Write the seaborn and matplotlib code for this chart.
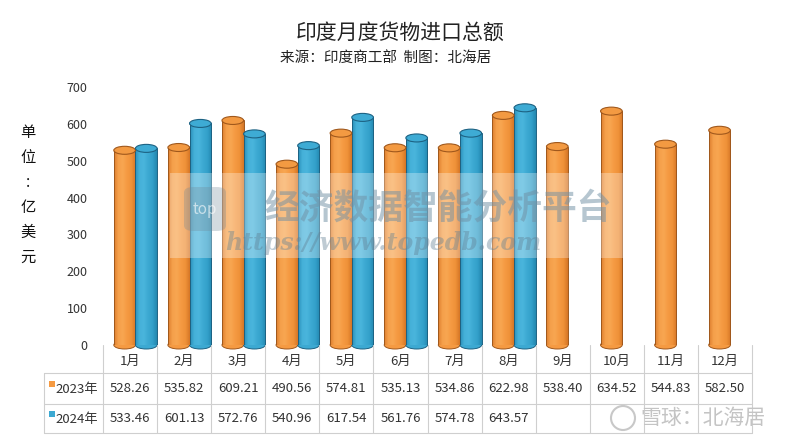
import numpy as np
import pandas as pd
import matplotlib
matplotlib.use("Agg")
import matplotlib.pyplot as plt
import seaborn as sns
from matplotlib.colors import LinearSegmentedColormap
from matplotlib.patches import Ellipse, Rectangle, FancyBboxPatch
import matplotlib.transforms as mtransforms

# ---------------- data ----------------
months = ["1月", "2月", "3月", "4月", "5月", "6月", "7月", "8月", "9月", "10月", "11月", "12月"]
years = ["2023年", "2024年"]
imports_2023 = [528.26, 535.82, 609.21, 490.56, 574.81, 535.13, 534.86, 622.98, 538.40, 634.52, 544.83, 582.50]
imports_2024 = [533.46, 601.13, 572.76, 540.96, 617.54, 561.76, 574.78, 643.57, None, None, None, None]
yticks = [0, 100, 200, 300, 400, 500, 600, 700]

title = "印度月度货物进口总额"
subtitle = "来源：印度商工部  制图：北海居"
ylabel_chars = ["单", "位", ":", "亿", "美", "元"]

# ---------------- style ----------------
sns.set_style("white")
plt.rcParams["font.family"] = ["Noto Sans CJK SC", "DejaVu Sans"]

c_orange, c_blue = "#F59A42", "#3CA9D2"
cmap_o = LinearSegmentedColormap.from_list("o", ["#DD7E2E", "#F5A04B", "#F8A651", "#F59A42", "#EF9239", "#D57626"])
cmap_b = LinearSegmentedColormap.from_list("b", ["#2A8FB8", "#45B1D9", "#4AB5DC", "#3CA9D2", "#33A0CA", "#2387AF"])
edge_o, edge_b = "#A0581C", "#1D6283"
cap_o, cap_b = "#F39A42", "#3EABD4"

rows = []
for m, a, b in zip(months, imports_2023, imports_2024):
    rows.append({"month": m, "year": years[0], "value": a})
    if b is not None:
        rows.append({"month": m, "year": years[1], "value": b})
df = pd.DataFrame(rows)

W, H = 800, 446
fig = plt.figure(figsize=(W / 100, H / 100), dpi=100, facecolor="white")
ax_l, ax_r, ax_top, ax_bot = 103, 752, 87, 345
ax = fig.add_axes([ax_l / W, 1 - ax_bot / H, (ax_r - ax_l) / W, (ax_bot - ax_top) / H])
ax.set_facecolor("none")

sns.barplot(data=df, x="month", y="value", hue="year", order=months, hue_order=years,
            palette=[c_orange, c_blue], width=0.8, dodge=True, legend=False, ax=ax,
            saturation=1, errorbar=None)

px_per_unit = (ax_bot - ax_top) / 700.0
cap_h = 8 / px_per_unit
grad = np.linspace(0, 1, 128).reshape(1, -1)

for cont, cmap, edge, cap in zip(ax.containers, [cmap_o, cmap_b], [edge_o, edge_b], [cap_o, cap_b]):
    for p in cont:
        h = p.get_height()
        if not np.isfinite(h) or h <= 0:
            continue
        x, w = p.get_x(), p.get_width()
        p.set_facecolor("none")
        p.set_edgecolor(edge)
        p.set_linewidth(0.7)
        p.set_zorder(3)
        im = ax.imshow(grad, cmap=cmap, extent=[x, x + w, 0, h], aspect="auto",
                       origin="lower", zorder=2, interpolation="bilinear")
        im.set_clip_path(p)
        bot = Ellipse((x + w / 2, 0), w, cap_h, facecolor=cmap(0.6), edgecolor=edge,
                      lw=0.7, zorder=1.5, clip_on=False)
        ax.add_patch(bot)
        top = Ellipse((x + w / 2, h), w, cap_h, facecolor=cap, edgecolor=edge,
                      lw=0.8, zorder=4)
        ax.add_patch(top)

ax.set_xlim(-0.6, 11.4)
ax.set_ylim(0, 700)
ax.set_yticks(yticks)
ax.set_yticklabels([str(v) for v in yticks], fontsize=9, color="#333333")
ax.tick_params(axis="y", length=0, pad=11)
ax.set_xticks([])
ax.set_xlabel("")
ax.set_ylabel("")
for s in ax.spines.values():
    s.set_visible(False)

# ---------------- data table ----------------
tr = mtransforms.blended_transform_factory(ax.transData, ax.transAxes)
axh = ax_bot - ax_top
def yf(pix):
    return (ax_bot - pix) / axh

line_c, lw = "#CFCFCF", 0.8
x0 = -0.6
xleg = x0 - 59 / 54.0
xend = x0 + len(months)
y_rows = [yf(373), yf(404), yf(433)]
for yy in y_rows:
    ax.plot([xleg, xend], [yy, yy], color=line_c, lw=lw, transform=tr, clip_on=False)
for k in range(len(months) + 1):
    ax.plot([x0 + k, x0 + k], [0, yf(433)], color=line_c, lw=lw, transform=tr, clip_on=False)
ax.plot([xleg, xleg], [yf(373), yf(433)], color=line_c, lw=lw, transform=tr, clip_on=False)

for i, m in enumerate(months):
    ax.text(i - 0.1, yf(361), m, ha="center", va="center", fontsize=9.5, color="#333333",
            transform=tr, clip_on=False)
    ax.text(i - 0.1, yf(389), f"{imports_2023[i]:.2f}", ha="center", va="center", fontsize=9.5,
            color="#333333", transform=tr, clip_on=False)
    if imports_2024[i] is not None:
        ax.text(i - 0.1, yf(419), f"{imports_2024[i]:.2f}", ha="center", va="center", fontsize=9.5,
                color="#333333", transform=tr, clip_on=False)

for lab, col, ypix in [(years[0], c_orange, 389), (years[1], c_blue, 419)]:
    sq = 6
    ax.add_patch(Rectangle((xleg + 5 / 54.0, yf(ypix - 5 + sq / 2)), sq / 54.0, sq / axh,
                           facecolor=col, edgecolor="none", transform=tr, clip_on=False))
    ax.text(xleg + 12 / 54.0, yf(ypix), lab, ha="left", va="center", fontsize=9.5,
            color="#333333", transform=tr, clip_on=False)

# ---------------- titles ----------------
fig.text(0.5, 1 - 33 / H, title, ha="center", va="center", fontsize=15, color="#222222")
fig.text(386 / W, 1 - 58 / H, subtitle, ha="center", va="center", fontsize=10.5, color="#222222")
fig.text(28 / W, 1 - 195 / H, "\n".join(ylabel_chars), ha="center", va="center", fontsize=11,
         color="#111111", linespacing=1.62, multialignment="center")

# ---------------- watermarks ----------------
fig.patches.append(Rectangle((170 / W, 1 - 258 / H), (625 - 170) / W, (258 - 173) / H,
                             transform=fig.transFigure, facecolor="white", alpha=0.3,
                             edgecolor="none", zorder=5))
fig.patches.append(FancyBboxPatch((184 / W, 1 - 231 / H), 42 / W, 44 / H,
                                  boxstyle="round,pad=0,rounding_size=0.012",
                                  transform=fig.transFigure, facecolor="#6f8796", alpha=0.3,
                                  edgecolor="none", zorder=6))
fig.text(205 / W, 1 - 209 / H, "top", ha="center", va="center", fontsize=11, color="white",
         alpha=0.6, zorder=7)
fig.text(438 / W, 1 - 208 / H, "经济数据智能分析平台", ha="center", va="center", fontsize=25,
         fontweight="bold", color="#6f8fa3", alpha=0.5, zorder=7)
fig.text(383 / W, 1 - 243 / H, "https://www.topedb.com", ha="center", va="center", fontsize=17,
         family="DejaVu Serif", style="italic", fontweight="bold", color="#5f7f93", alpha=0.4, zorder=7)
fig.patches.append(Ellipse((623 / W, 1 - 418 / H), 24 / W, 24 / H, transform=fig.transFigure,
                           facecolor="none", edgecolor="#c8c8c8", lw=1.5, zorder=6))
fig.text(703 / W, 1 - 418 / H, "雪球：北海居", ha="center", va="center", fontsize=15,
         color="#c4c4c4", zorder=7)

fig.savefig("out.png", dpi=100, facecolor="white")
